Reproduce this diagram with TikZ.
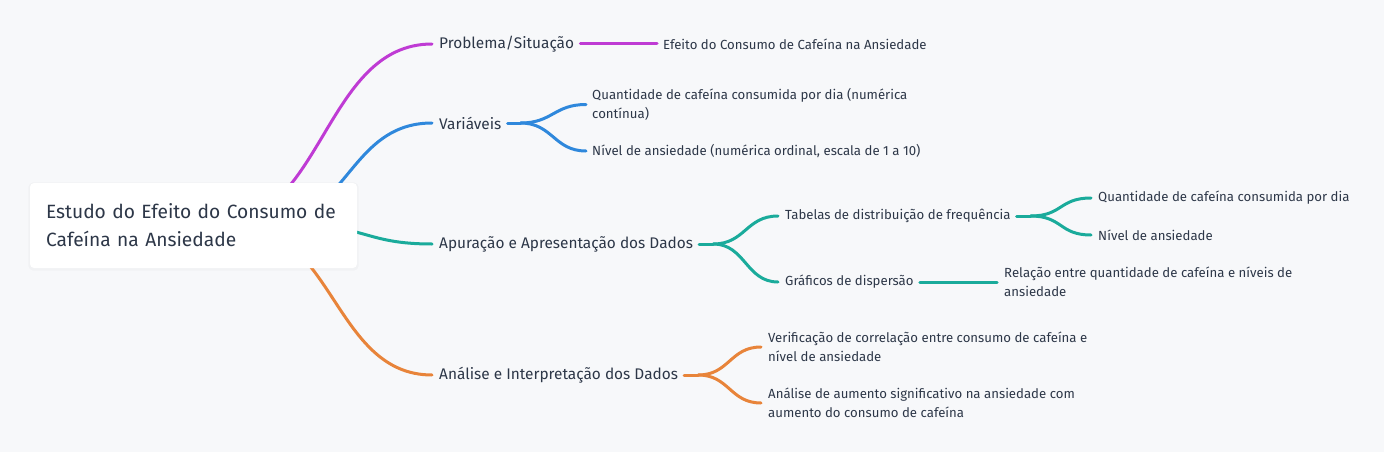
\documentclass[tikz,border=0pt]{standalone}
\usepackage{fontspec}
\setmainfont{Fira Sans}
\usetikzlibrary{positioning}
\definecolor{bgc}{HTML}{F7F8FA}
\definecolor{ink}{HTML}{2D3748}
\definecolor{cP}{HTML}{BF3BD4}
\definecolor{cB}{HTML}{2F88DC}
\definecolor{cT}{HTML}{1AAB9B}
\definecolor{cO}{HTML}{E8843A}
\pgfdeclarelayer{bgfill}
\pgfdeclarelayer{back}
\pgfsetlayers{bgfill,back,main}

\begin{document}
\begin{tikzpicture}[x=1pt,y=-1pt,
R/.style={fill=white, rounded corners=4pt, minimum height=85pt, inner xsep=16pt, text width=295pt, align=left, font=\fontsize{19.2}{28}\selectfont, text=ink},
L/.style={anchor=west, inner xsep=0pt, font=\fontsize{15.4}{17}\selectfont, text=ink},
S/.style={anchor=west, inner xsep=0pt, align=left, font=\fontsize{13.2}{19}\selectfont, text=ink},
lP/.style={line width=3pt, draw=cP, line cap=round},
lB/.style={line width=3pt, draw=cB, line cap=round},
lT/.style={line width=3pt, draw=cT, line cap=round},
lO/.style={line width=3pt, draw=cO, line cap=round}]
%
\useasboundingbox (0,0) rectangle (1384,452);
\begin{pgfonlayer}{bgfill}
\fill[bgc] (0,0) rectangle (1384,452);
\end{pgfonlayer}

% root
\node[R] at (193.5,225.5) (root) {Estudo do Efeito do Consumo de Cafeína na Ansiedade};

% first level
\node[L] at (439,44) (prob) {Problema/Situação};
\node[L] at (439,123) (var) {Variáveis};
\node[L] at (439,244) (apu) {Apuração e Apresentação dos Dados};
\node[L] at (439,375) (anl) {Análise e Interpretação dos Dados};

% leaves
\node[S] at (663,44) (eff) {Efeito do Consumo de Cafeína na Ansiedade};
\node[S] at (592,104.5) (qtd) {Quantidade de cafeína consumida por dia (numérica\\contínua)};
\node[S] at (592,151) (niv) {Nível de ansiedade (numérica ordinal, escala de 1 a 10)};
\node[S] at (785,216) (tab) {Tabelas de distribuição de frequência};
\node[S] at (785,282) (graf) {Gráficos de dispersão};
\node[S] at (1098,198) (tqtd) {Quantidade de cafeína consumida por dia};
\node[S] at (1098,235) (tniv) {Nível de ansiedade};
\node[S] at (1004,282) (rel) {Relação entre quantidade de cafeína e níveis de\\ansiedade};
\node[S] at (768,347) (ver) {Verificação de correlação entre consumo de cafeína e\\nível de ansiedade};
\node[S] at (768,403) (aum) {Análise de aumento significativo na ansiedade com\\aumento do consumo de cafeína};

\begin{pgfonlayer}{back}
\fill[black,opacity=0.025,rounded corners=5pt] ([shift={(-1.5,-0.5)}]root.north west) rectangle ([shift={(1.5,2.5)}]root.south east);
\draw[lP] ([xshift=21.5]root.center) .. controls +(108.5,0) and +(-108.5,0) .. ([xshift=-7]prob.west);
\draw[lB] ([xshift=69.5]root.center) .. controls +(84.5,0) and +(-84.5,0) .. ([xshift=-7]var.west);
\draw[lT] ([xshift=106.5]root.center) .. controls +(66,0) and +(-66,0) .. ([xshift=-7]apu.west);
\draw[lO] ([xshift=42.5]root.center) .. controls +(98,0) and +(-98,0) .. ([xshift=-7]anl.west);
\end{pgfonlayer}

% Problema
\draw[lP] ([xshift=6]prob.east) -- ([xshift=-6]eff.west);

% Variaveis
\draw[lB] ([xshift=6]var.east) -- ++(13,0) coordinate (vj);
\draw[lB] (vj) .. controls +(32,0) and +(-32,0) .. ([xshift=-6]qtd.west);
\draw[lB] (vj) .. controls +(32,0) and +(-32,0) .. ([xshift=-6]niv.west);

% Apuracao
\draw[lT] ([xshift=6]apu.east) -- ++(14,0) coordinate (aj);
\draw[lT] (aj) .. controls +(32,0) and +(-32,0) .. ([xshift=-7]tab.west);
\draw[lT] (aj) .. controls +(32,0) and +(-32,0) .. ([xshift=-7]graf.west);
\draw[lT] ([xshift=6]tab.east) -- ++(14,0) coordinate (tj);
\draw[lT] (tj) .. controls +(32,0) and +(-32,0) .. ([xshift=-7]tqtd.west);
\draw[lT] (tj) .. controls +(32,0) and +(-32,0) .. ([xshift=-7]tniv.west);
\draw[lT] ([xshift=6]graf.east) -- ([xshift=-7]rel.west);

% Analise
\draw[lO] ([xshift=6]anl.east) -- ++(14,0) coordinate (nj);
\draw[lO] (nj) .. controls +(31,0) and +(-31,0) .. ([xshift=-7]ver.west);
\draw[lO] (nj) .. controls +(31,0) and +(-31,0) .. ([xshift=-7]aum.west);

\end{tikzpicture}
\end{document}
